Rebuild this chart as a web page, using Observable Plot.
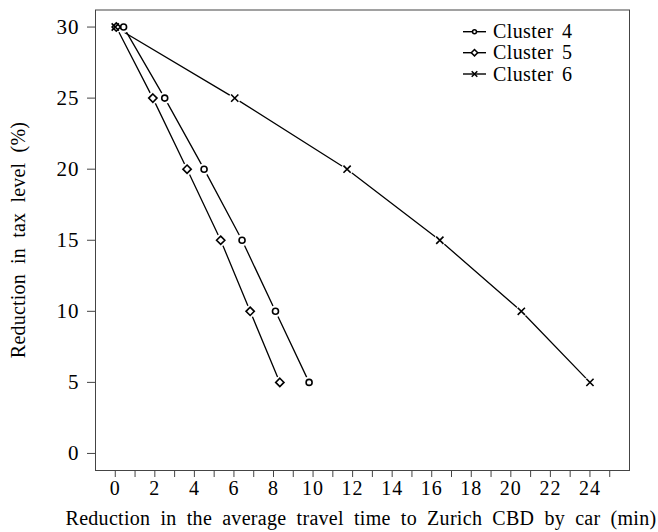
<!DOCTYPE html>
<html>
<head>
<meta charset="utf-8">
<script src="https://cdn.jsdelivr.net/npm/d3@7"></script>
<script src="https://cdn.jsdelivr.net/npm/@observablehq/plot@0.6"></script>
<style>
  body { margin: 0; background: #fff; }
  #chart svg { display: block; }
</style>
</head>
<body>
<div id="chart"></div>
<script>
// ---- Data ----
const taxLevels = [30, 25, 20, 15, 10, 5];
const cluster4 = [0.42, 2.5, 4.49, 6.41, 8.1, 9.8];
const cluster5 = [0.05, 1.9, 3.63, 5.33, 6.82, 8.32];
const cluster6 = [0, 6.04, 11.72, 16.41, 20.53, 24.0];
const clusterNames = ["Cluster 4", "Cluster 5", "Cluster 6"];
const clusterSymbols = ["circle", "diamond2", "times"];
const xTicks = d3.range(0, 26, 1);
const yTicks = [0, 5, 10, 15, 20, 25, 30];
const xTitle = "Reduction in the average travel time to Zurich CBD by car (min)";
const yTitle = "Reduction in tax level (%)";

const series = [cluster4, cluster5, cluster6];
const rows = [];
series.forEach((vals, i) => {
  vals.forEach((v, j) => rows.push({cluster: clusterNames[i], symbol: clusterSymbols[i], x: v, y: taxLevels[j]}));
});

const W = 658, H = 532;
const ML = 95, MR = 29, MT = 9.5, MB = 62;
const font = "'Liberation Serif', 'Times New Roman', serif";

const plot = Plot.plot({
  width: W,
  height: H,
  marginLeft: ML,
  marginRight: MR,
  marginTop: MT,
  marginBottom: MB,
  style: {fontFamily: font, fontSize: "20px", color: "#000", background: "#fff"},
  x: {domain: [-1, 26], label: null},
  y: {domain: [-1.2, 31.2], label: null},
  symbol: {domain: clusterSymbols, range: clusterSymbols},
  marks: [
    Plot.frame({stroke: "#444", strokeWidth: 1}),
    Plot.axisX({ticks: xTicks, tickSize: 7, tickPadding: 3, stroke: "#444",
      tickFormat: d => (d % 2 === 0 && d <= 24) ? String(d) : "", fontSize: 20}),
    Plot.axisY({ticks: yTicks, tickSize: 8, tickPadding: 8, stroke: "#444", fontSize: 21}),
    Plot.line(rows, {x: "x", y: "y", z: "cluster", stroke: "#000", strokeWidth: 1.3}),
    Plot.dot(rows, {x: "x", y: "y", r: 6, fill: "#fff", stroke: "none"}),
    Plot.dot(rows, {x: "x", y: "y", symbol: "symbol", r: d => d.symbol === "circle" ? 2.2 : d.symbol === "diamond2" ? 3.4 : 2.8,
      fill: "none", stroke: "#000", strokeWidth: 1.6})
  ]
});

document.getElementById("chart").appendChild(plot);

const svg = d3.select(plot);
svg.selectAll("g[aria-label='x-axis tick label'] text, g[aria-label='y-axis tick label'] text")
  .attr("font-family", font)
  .attr("letter-spacing", 1);

// axis titles
svg.append("text")
  .attr("x", 361)
  .attr("y", 525)
  .attr("text-anchor", "middle")
  .attr("font-family", font)
  .attr("font-size", 20)
  .attr("letter-spacing", 0.3)
  .attr("word-spacing", 4.8)
  .attr("fill", "#000")
  .text(xTitle);
svg.append("text")
  .attr("transform", `translate(25, 240) rotate(-90)`)
  .attr("text-anchor", "middle")
  .attr("font-family", font)
  .attr("font-size", 20)
  .attr("letter-spacing", 0.2)
  .attr("word-spacing", 5)
  .attr("fill", "#000")
  .text(yTitle);

// legend
const legRowY = [31.7, 52.7, 74];
const sym = d3.scaleOrdinal(clusterSymbols, [d3.symbolCircle, d3.symbolDiamond2, d3.symbolX]);
const symSize = {circle: 12, diamond2: 26, times: 22};
clusterNames.forEach((name, i) => {
  const g = svg.append("g").attr("transform", `translate(0, ${legRowY[i]})`);
  g.append("line").attr("x1", 463).attr("x2", 486).attr("stroke", "#000").attr("stroke-width", 1.4);
  g.append("path").attr("transform", "translate(474.5,0)")
    .attr("d", d3.symbol(sym(clusterSymbols[i]), symSize[clusterSymbols[i]])())
    .attr("fill", "#fff").attr("stroke", "#000").attr("stroke-width", 1.5);
  g.append("text").attr("x", 493).attr("y", 6.5)
    .attr("text-anchor", "start")
    .attr("font-family", font).attr("font-size", 20).attr("letter-spacing", 0.4).attr("word-spacing", 3)
    .attr("fill", "#000").text(name);
});
</script>
</body>
</html>
